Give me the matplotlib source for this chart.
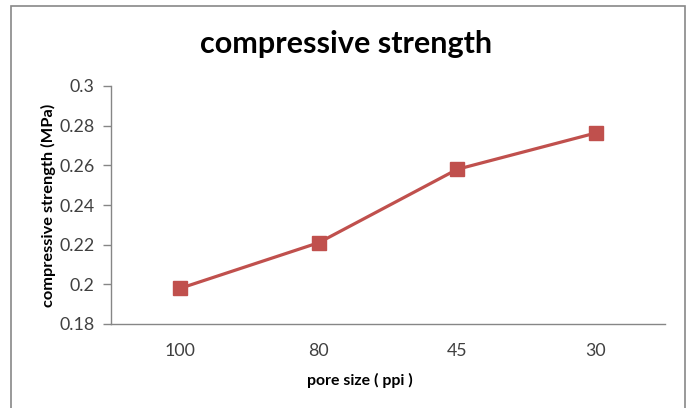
import matplotlib.pyplot as plt
from matplotlib.patches import Rectangle

# data
pore_size = ['100', '80', '45', '30']
strength = [0.198, 0.221, 0.258, 0.2763]
y_ticks = [0.18, 0.2, 0.22, 0.24, 0.26, 0.28, 0.3]
y_labels = ['0.18', '0.2', '0.22', '0.24', '0.26', '0.28', '0.3']

plt.rcParams['font.family'] = ['Lato', 'DejaVu Sans']

W, H = 692, 408
fig = plt.figure(figsize=(W / 100, H / 100), dpi=100)
ax = fig.add_axes([111 / W, 1 - 324 / H, (665 - 111) / W, (324 - 86) / H])

x = range(len(pore_size))
ax.plot(x, strength, color='#C0504D', lw=2.3, marker='s', ms=9.5,
        markeredgecolor='#C0504D', markerfacecolor='#C0504D')

ax.set_xlim(-0.5, len(pore_size) - 0.5)
ax.set_ylim(0.18, 0.3)
ax.set_xticks(list(x))
ax.set_xticklabels(pore_size)
ax.set_yticks(y_ticks)
ax.set_yticklabels(y_labels)
ax.tick_params(axis='x', length=0, pad=14, labelsize=12.8, colors='#404040')
ax.tick_params(axis='y', length=6, width=1, color='#868686', pad=6,
               labelsize=12.8, labelcolor='#404040')

for s in ['top', 'right']:
    ax.spines[s].set_visible(False)
for s in ['left', 'bottom']:
    ax.spines[s].set_color('#868686')
    ax.spines[s].set_linewidth(1)

fig.text(346 / W, 1 - 44 / H, 'compressive strength', ha='center', va='center',
         fontsize=22, fontweight='bold', color='black')
fig.text(360 / W, 1 - 380 / H, 'pore size ( ppi )', ha='center', va='center',
         fontsize=11.4, fontweight='bold', color='black')
fig.text(48 / W, 1 - 205 / H, 'compressive strength (MPa)', ha='center', va='center',
         rotation=90, fontsize=11.8, fontweight='bold', color='black')

# chart border
fig.patches.append(Rectangle((11 / W, -0.01), (685 - 11) / W, 1 - 6 / H + 0.01,
                             transform=fig.transFigure, fill=False,
                             edgecolor='#888888', lw=1.2))

fig.savefig('out.png', dpi=100)
